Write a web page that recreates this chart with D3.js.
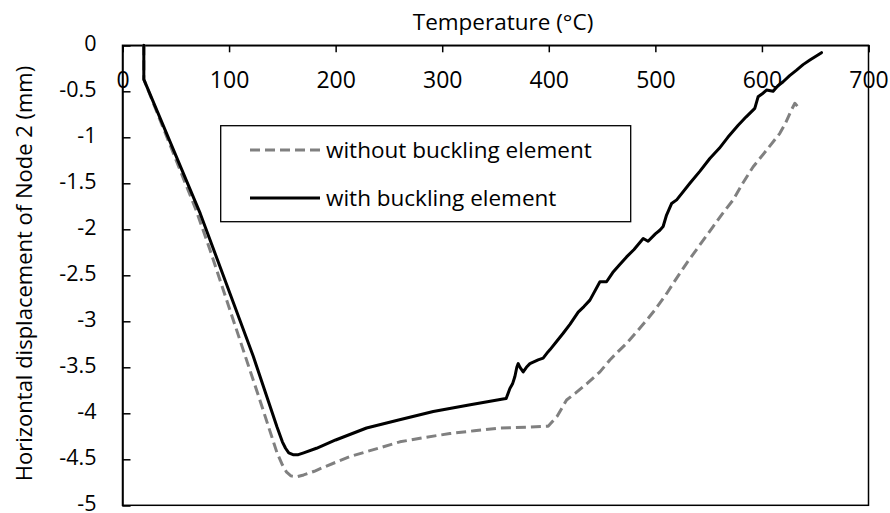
<!DOCTYPE html>
<html><head><meta charset="utf-8">
<script src="https://cdn.jsdelivr.net/npm/d3@7"></script>
<style>html,body{margin:0;padding:0;background:#fff;}svg{display:block;}</style>
</head><body>
<svg id="c" width="890" height="513"></svg>
<script>
// Data (Temperature °C, displacement mm)
const xTicks = [0,100,200,300,400,500,600,700];
const yTicks = [0,-0.5,-1,-1.5,-2,-2.5,-3,-3.5,-4,-4.5,-5];
const seriesNames = ["without buckling element","with buckling element"];
const withoutT = [20,20,69,82,129,145,150,154,158,163.4,170,180,190,213.4,240,260.3,285,307.2,330,354,380,399.4,408,416.7,425,435.5,448,457.3,465,473,482,491.7,500,510.5,520,529.3,541.7,554.2,563,573,582,591.8,604.3,616.8,622,627.8,630.9,633.9];
const withoutD = [0,-0.37,-1.79,-2.22,-3.86,-4.43,-4.56,-4.64,-4.68,-4.69,-4.67,-4.63,-4.58,-4.47,-4.38,-4.31,-4.26,-4.22,-4.19,-4.16,-4.15,-4.14,-4.03,-3.855,-3.78,-3.68,-3.55,-3.42,-3.33,-3.24,-3.12,-2.99,-2.87,-2.70,-2.53,-2.37,-2.17,-1.97,-1.83,-1.68,-1.50,-1.32,-1.14,-0.957,-0.85,-0.70,-0.63,-0.67];
const withT = [20,20,73,91.6,122.7,145,150,153,156,160,165,170,182,200,229,260,291.6,325,357,360,363.5,366,368.2,370,371.3,373,376,379,382.3,390,394.7,399.4,401,407.3,413.5,420,427.6,433,438.6,448,454.2,460,466,473,480,488.6,493.2,500,504.2,507.3,510.5,515.2,520,532.4,541.7,551.1,560,568,577.7,585,593.3,596.4,600,604.3,610.5,615,619.9,626,632.5,638.6,645,655.9];
const withD = [0,-0.37,-1.83,-2.41,-3.38,-4.15,-4.31,-4.38,-4.43,-4.45,-4.45,-4.43,-4.38,-4.29,-4.16,-4.07,-3.98,-3.91,-3.845,-3.84,-3.73,-3.68,-3.60,-3.50,-3.46,-3.50,-3.55,-3.50,-3.46,-3.42,-3.40,-3.33,-3.31,-3.22,-3.13,-3.03,-2.90,-2.84,-2.77,-2.57,-2.57,-2.47,-2.39,-2.30,-2.22,-2.10,-2.13,-2.05,-2.01,-1.97,-1.845,-1.72,-1.68,-1.50,-1.37,-1.23,-1.12,-1.00,-0.87,-0.78,-0.685,-0.56,-0.53,-0.486,-0.50,-0.44,-0.396,-0.33,-0.27,-0.21,-0.16,-0.08];

const svg = d3.select("#c");
const FONT = "'Open Sans', sans-serif";
const L = 122.5, R = 868.5, T = 45.3, B = 505.3;
const x = d3.scaleLinear().domain([0,700]).range([L,R]);
const y = d3.scaleLinear().domain([0,-5]).range([T,B]);

// plot frame
svg.append("rect").attr("x",L).attr("y",T).attr("width",R-L).attr("height",B-T)
  .attr("fill","none").attr("stroke","#000").attr("stroke-width",1.5);

// top x axis, ticks pointing inward (down), labels inside
const xAxis = d3.axisBottom(x).tickValues(xTicks).tickSize(7).tickPadding(19).tickFormat(d => String(d));
const gx = svg.append("g").attr("transform",`translate(0,${T})`).call(xAxis);
gx.select(".domain").attr("stroke","#000").attr("stroke-width",1.5);
gx.selectAll(".tick line").attr("stroke","#000").attr("stroke-width",1.5);
gx.selectAll(".tick text").attr("font-family",FONT).attr("font-size",23).attr("fill","#000");

// left y axis, ticks inward (right)
const yAxis = d3.axisRight(y).tickValues(yTicks).tickSize(8).tickFormat(d => String(d));
const gy = svg.append("g").attr("transform",`translate(${L},0)`).call(yAxis);
gy.select(".domain").attr("stroke","#000").attr("stroke-width",1.5);
gy.selectAll(".tick line").attr("stroke","#000").attr("stroke-width",1.5);
gy.selectAll(".tick text").attr("font-family",FONT).attr("font-size",21.5).attr("fill","#000")
  .attr("text-anchor","end").attr("x",-26).attr("dy","0.22em");

// axis titles
svg.append("text").attr("x",503).attr("y",30).attr("text-anchor","middle")
  .attr("font-family",FONT).attr("font-size",22.5).attr("fill","#000").text("Temperature (°C)");
svg.append("text").attr("transform","translate(32,273.5) rotate(-90)").attr("text-anchor","middle")
  .attr("font-family",FONT).attr("font-size",22).attr("fill","#000").text("Horizontal displacement of Node 2 (mm)");

// lines
const line = d3.line().x(d=>x(d[0])).y(d=>y(d[1]));
const dWithout = withoutT.map((t,i)=>[t,withoutD[i]]);
const dWith = withT.map((t,i)=>[t,withD[i]]);
svg.append("path").attr("d",line(dWithout)).attr("fill","none").attr("stroke","#808080")
  .attr("stroke-width",3).attr("stroke-dasharray","10,5").attr("stroke-linejoin","round");
svg.append("path").attr("d",line(dWith)).attr("fill","none").attr("stroke","#000")
  .attr("stroke-width",3).attr("stroke-linejoin","round").attr("stroke-linecap","round");

// legend
const lg = svg.append("g");
lg.append("rect").attr("x",220.7).attr("y",125.7).attr("width",410).attr("height",96)
  .attr("fill","#fff").attr("stroke","#000").attr("stroke-width",1.3);
const entries = [{name:seriesNames[0],color:"#808080",dash:"10,5",yy:150},{name:seriesNames[1],color:"#000",dash:null,yy:198}];
entries.forEach(e=>{
  lg.append("line").attr("x1",250).attr("x2",320).attr("y1",e.yy).attr("y2",e.yy)
    .attr("stroke",e.color).attr("stroke-width",3).attr("stroke-dasharray",e.dash);
  lg.append("text").attr("x",326).attr("y",e.yy).attr("dy","0.35em")
    .attr("font-family",FONT).attr("font-size",22.5).attr("fill","#000").text(e.name);
});
</script>
</body></html>
